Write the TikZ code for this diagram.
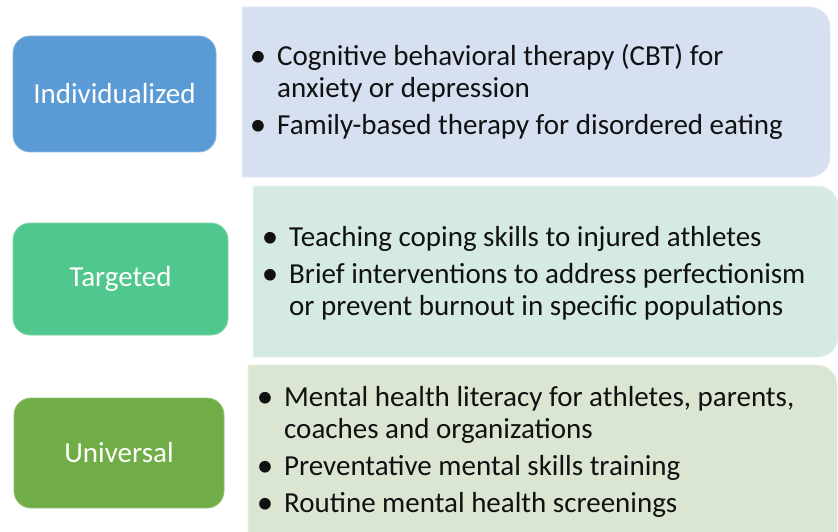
\documentclass[tikz,border=0pt]{standalone}
\usepackage{fontspec}
\setmainfont{Carlito}
\definecolor{indivfill}{HTML}{5B9BD5}
\definecolor{targfill}{HTML}{50C78D}
\definecolor{univfill}{HTML}{70AD47}
\definecolor{indivpanel}{HTML}{D6E0F1}
\definecolor{targpanel}{HTML}{D5EBE1}
\definecolor{univpanel}{HTML}{DAE5D2}
\definecolor{bodytext}{HTML}{111111}
\begin{document}
\begin{tikzpicture}[x=1pt,y=-1pt,
  levelbox/.style={rounded corners=17pt,line width=0.8pt},
  panel/.style={line width=1pt},
  levellabel/.style={text=white,font=\fontsize{29}{32}\selectfont,inner sep=0pt},
  itemtext/.style={anchor=base west,text=bodytext,font=\fontsize{29}{32}\selectfont,inner sep=0pt},
  bulletmark/.style={anchor=base,text=bodytext,font=\fontsize{33}{32}\selectfont,inner sep=0pt}]
\useasboundingbox (0,0) rectangle (838,532);
\clip (0,0) rectangle (838,532);

% tier panels: square on the left, rounded on the right
\draw[panel,fill=indivpanel,draw=indivpanel!60!white]
  (242,7) -- (810,7) arc[start angle=-90,end angle=0,radius=20] -- (830,157)
  arc[start angle=0,end angle=90,radius=20] -- (242,177) -- cycle;
\draw[panel,fill=targpanel,draw=targpanel!60!white]
  (253,186) -- (818,186) arc[start angle=-90,end angle=0,radius=20] -- (838,337)
  arc[start angle=0,end angle=90,radius=20] -- (253,357) -- cycle;
\draw[panel,fill=univpanel,draw=univpanel!60!white]
  (248,365) -- (817,365) arc[start angle=-90,end angle=0,radius=20] -- (837,560)
  -- (248,560) -- cycle;

% tier labels
\draw[levelbox,fill=indivfill,draw=indivfill!75!white] (13,36) rectangle (216,152);
\node[levellabel] (indiv) at (114.5,94) {Individualized};
\draw[levelbox,fill=targfill,draw=targfill!75!white] (13,223) rectangle (228,335);
\node[levellabel] (targ) at (120.5,279) {Targeted};
\draw[levelbox,fill=univfill,draw=univfill!75!white] (14,398) rectangle (224,508);
\node[levellabel] (univ) at (119,453) {Universal};

% individualized items
\node[bulletmark] (b1a) at (258,67) {•};
\node[itemtext] (t1a) at (277,66) {Cognitive behavioral therapy (CBT) for};
\node[itemtext] (t1b) at (277,98) {anxiety or depression};
\node[bulletmark] (b1c) at (258,136) {•};
\node[itemtext] (t1c) at (277,135) {Family-based therapy for disordered eating};

% targeted items
\node[bulletmark] (b2a) at (270,247) {•};
\node[itemtext] (t2a) at (289,246) {Teaching coping skills to injured athletes};
\node[bulletmark] (b2b) at (270,284) {•};
\node[itemtext] (t2b) at (289,283) {Brief interventions to address perfectionism};
\node[itemtext] (t2c) at (289,315) {or prevent burnout in specific populations};

% universal items
\node[bulletmark] (b3a) at (265,407) {•};
\node[itemtext] (t3a) at (284,406) {Mental health literacy for athletes, parents,};
\node[itemtext] (t3b) at (284,438) {coaches and organizations};
\node[bulletmark] (b3c) at (265,476) {•};
\node[itemtext] (t3c) at (284,475) {Preventative mental skills training};
\node[bulletmark] (b3d) at (265,513) {•};
\node[itemtext] (t3d) at (284,512) {Routine mental health screenings};
\end{tikzpicture}
\end{document}
